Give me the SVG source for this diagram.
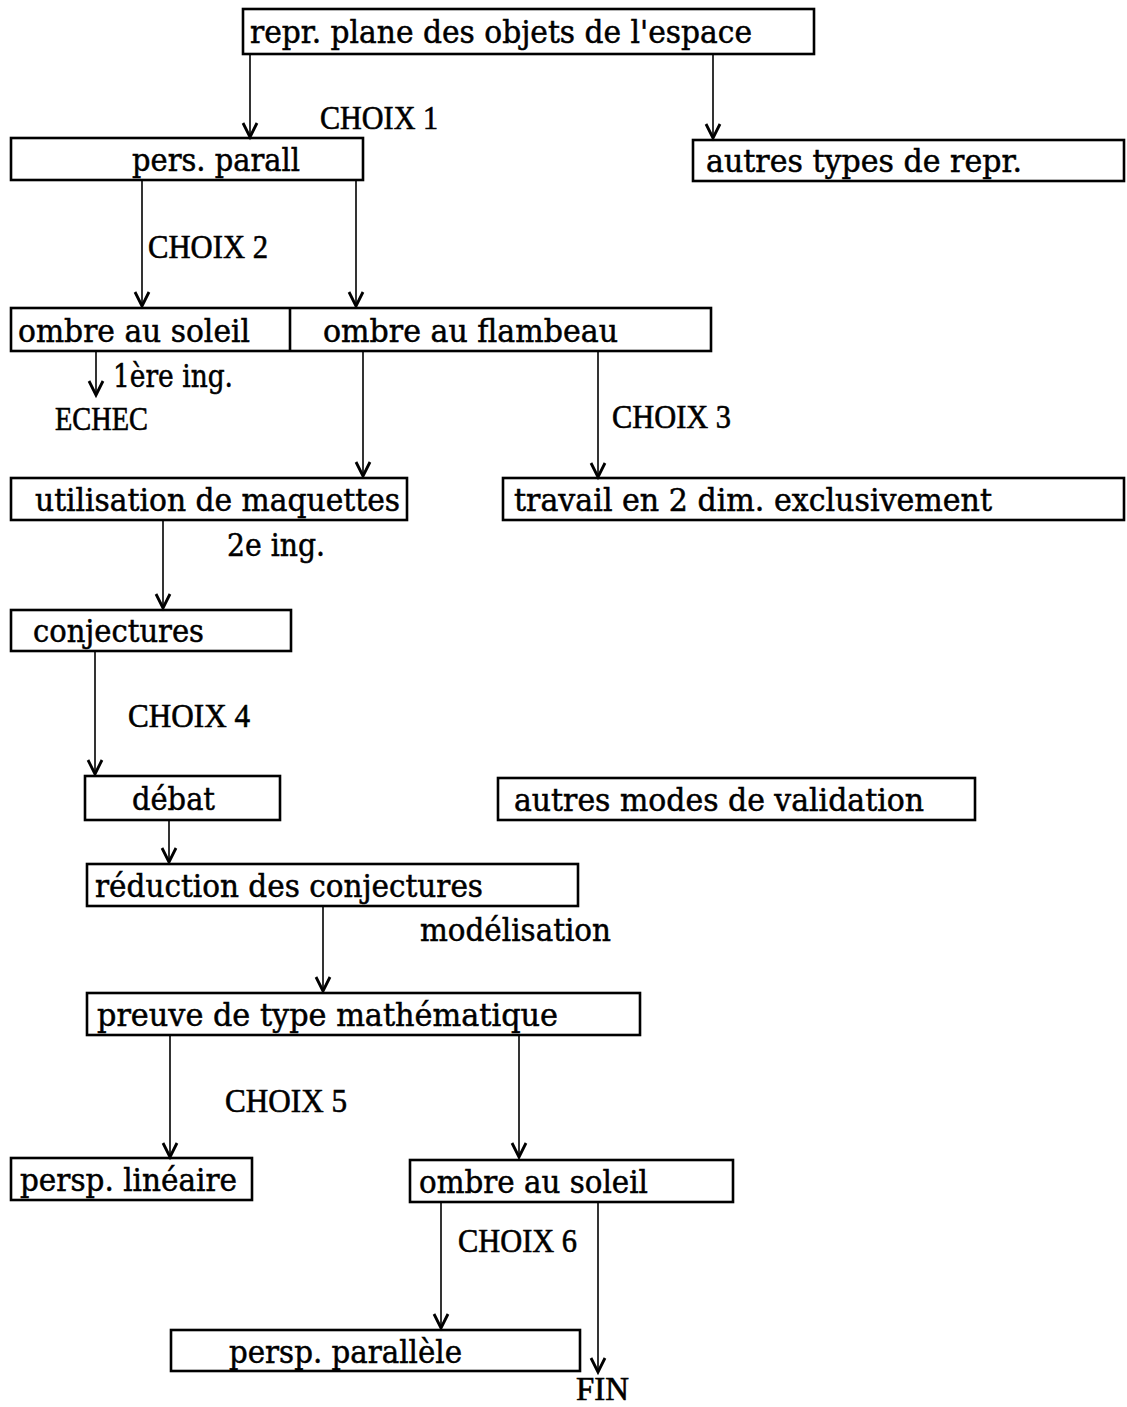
<svg xmlns="http://www.w3.org/2000/svg" width="1127" height="1407" viewBox="0 0 1127 1407">
<defs>
<style>
.box{fill:none;stroke:#000;stroke-width:2.6}
.t{font-family:"DejaVu Serif","Liberation Serif",serif;font-size:31px;fill:#000;stroke:#000;stroke-width:0.5}
.c{font-family:"Liberation Serif","Times New Roman",serif;font-size:33px;fill:#000;stroke:#000;stroke-width:0.6}
.ln{stroke:#000;stroke-width:1.6;fill:none}
</style>
<marker id="arr" markerUnits="userSpaceOnUse" markerWidth="20" markerHeight="20" refX="0" refY="0" orient="auto" overflow="visible">
<path d="M-14,-7 L0,0 L-14,7" fill="none" stroke="#000" stroke-width="2.8" stroke-linejoin="miter"/>
</marker>
</defs>
<rect width="1127" height="1407" fill="#fff"/>

<g id="connectors">
<line class="ln" x1="250" y1="54" x2="250" y2="137" marker-end="url(#arr)"/>
<line class="ln" x1="713" y1="54" x2="713" y2="138" marker-end="url(#arr)"/>
<line class="ln" x1="142" y1="180" x2="142" y2="306" marker-end="url(#arr)"/>
<line class="ln" x1="356" y1="180" x2="356" y2="306" marker-end="url(#arr)"/>
<line class="ln" x1="96" y1="351" x2="96" y2="395" marker-end="url(#arr)"/>
<line class="ln" x1="363" y1="351" x2="363" y2="476" marker-end="url(#arr)"/>
<line class="ln" x1="598" y1="351" x2="598" y2="477" marker-end="url(#arr)"/>
<line class="ln" x1="163" y1="520" x2="163" y2="608" marker-end="url(#arr)"/>
<line class="ln" x1="95" y1="651" x2="95" y2="774" marker-end="url(#arr)"/>
<line class="ln" x1="169" y1="820" x2="169" y2="862" marker-end="url(#arr)"/>
<line class="ln" x1="323" y1="906" x2="323" y2="991" marker-end="url(#arr)"/>
<line class="ln" x1="170" y1="1035" x2="170" y2="1157" marker-end="url(#arr)"/>
<line class="ln" x1="519" y1="1035" x2="519" y2="1157" marker-end="url(#arr)"/>
<line class="ln" x1="441" y1="1202" x2="441" y2="1328" marker-end="url(#arr)"/>
<line class="ln" x1="598" y1="1202" x2="598" y2="1372" marker-end="url(#arr)"/>
</g>

<g id="labels">
<text class="c" x="320" y="129" textLength="118" lengthAdjust="spacingAndGlyphs">CHOIX 1</text>
<text class="c" x="148" y="258" textLength="120" lengthAdjust="spacingAndGlyphs">CHOIX 2</text>
<text class="c" x="612" y="428" textLength="119" lengthAdjust="spacingAndGlyphs">CHOIX 3</text>
<text class="c" x="128" y="727" textLength="122" lengthAdjust="spacingAndGlyphs">CHOIX 4</text>
<text class="c" x="225" y="1112" textLength="122" lengthAdjust="spacingAndGlyphs">CHOIX 5</text>
<text class="c" x="458" y="1252" textLength="119" lengthAdjust="spacingAndGlyphs">CHOIX 6</text>
<text class="c" x="55" y="430" textLength="93" lengthAdjust="spacingAndGlyphs">ECHEC</text>
<text class="c" x="576" y="1400" textLength="53" lengthAdjust="spacingAndGlyphs">FIN</text>
<text class="t" x="113" y="387" textLength="120" lengthAdjust="spacingAndGlyphs">1ère ing.</text>
<text class="t" x="227" y="556" textLength="98" lengthAdjust="spacingAndGlyphs">2e ing.</text>
<text class="t" x="420" y="941" textLength="191" lengthAdjust="spacingAndGlyphs">modélisation</text>
</g>

<g id="n-repr">
<rect class="box" x="243" y="9" width="571" height="45"/>
<text class="t" x="250" y="43" textLength="502" lengthAdjust="spacingAndGlyphs">repr. plane des objets de l'espace</text>
</g>
<g id="n-pers-parall">
<rect class="box" x="11" y="138" width="352" height="42"/>
<text class="t" x="132" y="171" textLength="168" lengthAdjust="spacingAndGlyphs">pers. parall</text>
</g>
<g id="n-autres-types">
<rect class="box" x="693" y="140" width="431" height="41"/>
<text class="t" x="706" y="172" textLength="316" lengthAdjust="spacingAndGlyphs">autres types de repr.</text>
</g>
<g id="n-ombre">
<rect class="box" x="11" y="308" width="700" height="43"/>
<line class="box" x1="290" y1="308" x2="290" y2="351"/>
<text class="t" x="18" y="342" textLength="232" lengthAdjust="spacingAndGlyphs">ombre au soleil</text>
<text class="t" x="323" y="342" textLength="295" lengthAdjust="spacingAndGlyphs">ombre au flambeau</text>
</g>
<g id="n-maquettes">
<rect class="box" x="11" y="478" width="396" height="42"/>
<text class="t" x="35" y="511" textLength="365" lengthAdjust="spacingAndGlyphs">utilisation de maquettes</text>
</g>
<g id="n-travail">
<rect class="box" x="503" y="478" width="621" height="42"/>
<text class="t" x="514" y="511" textLength="478" lengthAdjust="spacingAndGlyphs">travail en 2 dim. exclusivement</text>
</g>
<g id="n-conjectures">
<rect class="box" x="11" y="610" width="280" height="41"/>
<text class="t" x="33" y="642" textLength="171" lengthAdjust="spacingAndGlyphs">conjectures</text>
</g>
<g id="n-debat">
<rect class="box" x="85" y="776" width="195" height="44"/>
<text class="t" x="132" y="810" textLength="83" lengthAdjust="spacingAndGlyphs">débat</text>
</g>
<g id="n-autres-modes">
<rect class="box" x="498" y="778" width="477" height="42"/>
<text class="t" x="514" y="811" textLength="410" lengthAdjust="spacingAndGlyphs">autres modes de validation</text>
</g>
<g id="n-reduction">
<rect class="box" x="87" y="864" width="491" height="42"/>
<text class="t" x="95" y="897" textLength="388" lengthAdjust="spacingAndGlyphs">réduction des conjectures</text>
</g>
<g id="n-preuve">
<rect class="box" x="87" y="993" width="553" height="42"/>
<text class="t" x="97" y="1026" textLength="461" lengthAdjust="spacingAndGlyphs">preuve de type mathématique</text>
</g>
<g id="n-persp-lineaire">
<rect class="box" x="11" y="1158" width="241" height="42"/>
<text class="t" x="20" y="1191" textLength="217" lengthAdjust="spacingAndGlyphs">persp. linéaire</text>
</g>
<g id="n-ombre-soleil">
<rect class="box" x="410" y="1160" width="323" height="42"/>
<text class="t" x="419" y="1193" textLength="229" lengthAdjust="spacingAndGlyphs">ombre au soleil</text>
</g>
<g id="n-persp-parallele">
<rect class="box" x="171" y="1330" width="409" height="41"/>
<text class="t" x="229" y="1363" textLength="233" lengthAdjust="spacingAndGlyphs">persp. parallèle</text>
</g>
</svg>
